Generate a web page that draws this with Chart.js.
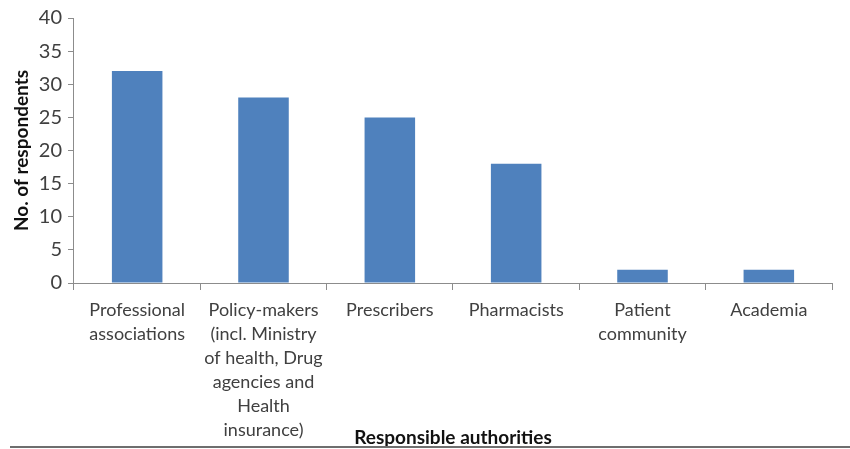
<!DOCTYPE html>
<html>
<head>
<meta charset="utf-8">
<script src="https://cdn.jsdelivr.net/npm/chart.js@4"></script>
<style>
  html, body { margin: 0; padding: 0; background: #ffffff; }
  #wrap { position: relative; width: 850px; height: 449px; }
  #rule { position: absolute; left: 10px; right: 0; top: 446px; height: 0; border-top: 2px solid #6e6e6e; }
</style>
</head>
<body>
<div id="wrap">
  <canvas id="chart" width="850" height="449"></canvas>
  <div id="rule"></div>
</div>
<script>
const categories = [
  ['Professional', 'associations'],
  ['Policy-makers', '(incl. Ministry', 'of health, Drug', 'agencies and', 'Health', 'insurance)'],
  ['Prescribers'],
  ['Pharmacists'],
  ['Patient', 'community'],
  ['Academia']
];
const respondents = [32, 28, 25, 18, 2, 2];
const yTicks = [0, 5, 10, 15, 20, 25, 30, 35, 40];

const FONT = 'Lato, "Open Sans", sans-serif';
const TEXT = '#404040';
const AXIS = '#8c8c8c';

new Chart(document.getElementById('chart'), {
  type: 'bar',
  data: {
    labels: categories,
    datasets: [{
      data: respondents,
      backgroundColor: '#4f81bd',
      borderWidth: 0,
      barPercentage: 0.8,
      categoryPercentage: 0.5
    }]
  },
  options: {
    responsive: false,
    animation: false,
    events: [],
    layout: { padding: { top: 10, right: 18, bottom: 0, left: 10 } },
    plugins: { legend: { display: false }, tooltip: { enabled: false } },
    scales: {
      x: {
        afterFit: (s) => { s.height = 166; },
        grid: { offset: true, drawOnChartArea: false, color: AXIS, tickLength: 7, lineWidth: 1 },
        border: { color: AXIS, width: 1 },
        ticks: { color: TEXT, font: { family: FONT, size: 18, lineHeight: '24px' }, maxRotation: 0, autoSkip: false, padding: 8 },
        title: { display: true, text: 'Responsible authorities', color: '#111111', font: { family: FONT, size: 19, weight: 'bold' }, padding: { top: 0, bottom: 0 } }
      },
      y: {
        min: 0, max: 40,
        afterBuildTicks: (s) => { s.ticks = yTicks.map(v => ({ value: v })); },
        grid: { drawOnChartArea: false, color: AXIS, tickLength: 6 },
        border: { color: AXIS, width: 1 },
        ticks: { color: TEXT, font: { family: FONT, size: 20 }, padding: 6 },
        title: { display: true, text: 'No. of respondents', color: '#111111', font: { family: FONT, size: 19, weight: 'bold' }, padding: 0 }
      }
    }
  }
});
</script>
</body>
</html>
